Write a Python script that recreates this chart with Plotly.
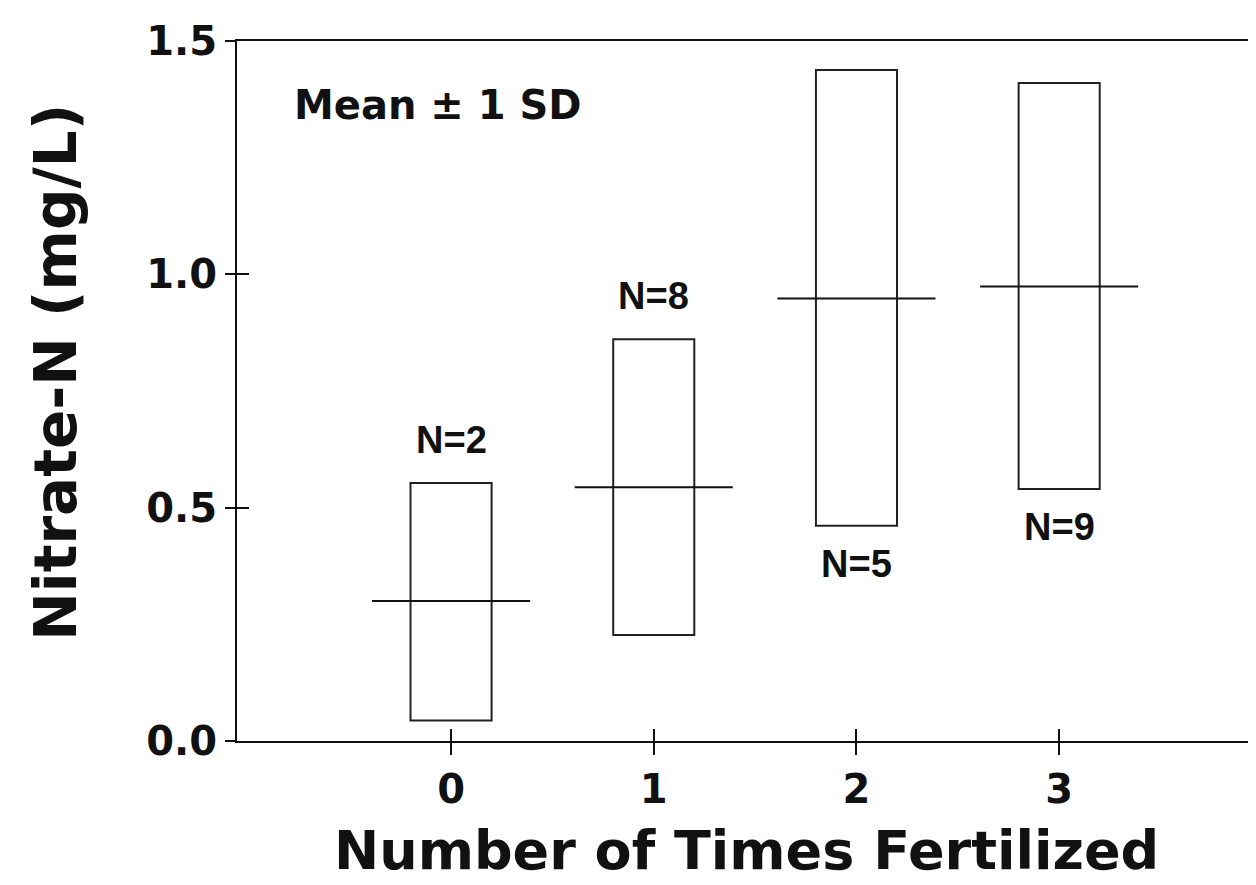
import plotly.graph_objects as go

# ---- data ----
categories = [0, 1, 2, 3]
tick_labels = ["0", "1", "2", "3"]
mean_vals = [0.30, 0.544, 0.948, 0.974]
lower_vals = [0.044, 0.227, 0.461, 0.540]   # mean - 1 SD
upper_vals = [0.553, 0.861, 1.438, 1.410]   # mean + 1 SD
n_labels = ["N=2", "N=8", "N=5", "N=9"]
n_side = ["above", "above", "below", "below"]

y_ticks = [0, 0.5, 1.0, 1.5]
y_tick_labels = ["0.0", "0.5", "1.0", "1.5"]

BOX_W = 0.4
MEAN_HALF = 0.39

fig = go.Figure()

# SD boxes
fig.add_trace(go.Bar(
    x=categories,
    y=[u - l for u, l in zip(upper_vals, lower_vals)],
    base=lower_vals,
    width=BOX_W,
    marker=dict(color="rgba(255,255,255,0)", line=dict(color="#222222", width=2)),
    showlegend=False, hoverinfo="skip",
))

# mean lines
mx, my = [], []
for c, m in zip(categories, mean_vals):
    mx += [c - MEAN_HALF, c + MEAN_HALF, None]
    my += [m, m, None]
fig.add_trace(go.Scatter(x=mx, y=my, mode="lines",
                         line=dict(color="#111111", width=2),
                         showlegend=False, hoverinfo="skip"))

# invisible trace for overlay axes (inside ticks)
fig.add_trace(go.Scatter(x=[0], y=[0], xaxis="x2", yaxis="y2", mode="markers",
                         marker=dict(opacity=0), showlegend=False, hoverinfo="skip"))

# N labels
for c, lab, side, lo, hi in zip(categories, n_labels, n_side, lower_vals, upper_vals):
    if side == "above":
        fig.add_annotation(x=c, y=hi, text=lab, showarrow=False, yanchor="middle",
                           yshift=43, font=dict(family="Liberation Sans", size=38,
                                                color="#111111", weight="bold"))
    else:
        fig.add_annotation(x=c, y=lo, text=lab, showarrow=False, yanchor="middle",
                           yshift=-38, font=dict(family="Liberation Sans", size=38,
                                                 color="#111111", weight="bold"))

fig.add_annotation(xref="paper", yref="paper", x=0.054, y=0.909, xanchor="left",
                   yanchor="middle", text="Mean ± 1 SD", showarrow=False,
                   font=dict(family="DejaVu Sans", size=40, color="#111111", weight="bold"))

# axis titles
fig.add_annotation(xref="paper", yref="paper", x=-0.178, y=0.527, textangle=-90,
                   text="Nitrate-N (mg/L)", showarrow=False, xanchor="center", yanchor="middle",
                   font=dict(family="DejaVu Sans", size=58, color="#111111", weight="bold"))
fig.add_annotation(xref="paper", yref="paper", x=0.5, y=-0.157,
                   text="Number of Times Fertilized", showarrow=False,
                   xanchor="center", yanchor="middle",
                   font=dict(family="DejaVu Sans", size=54, color="#111111", weight="bold"))

tickfont = dict(family="DejaVu Sans", size=40, color="#111111", weight="bold")

# page body has an 8px default margin; size the figure so the plot area
# lands at x 237..1256, y 41..741 in the window
fig.update_layout(
    width=1248, height=877,
    margin=dict(l=229, r=0, t=33, b=144),
    paper_bgcolor="white", plot_bgcolor="white",
    showlegend=False,
    xaxis=dict(range=[-1.056, 3.971], tickvals=categories, ticktext=tick_labels,
               ticks="outside", ticklen=12, tickwidth=2, tickcolor="#111111",
               showline=True, linecolor="#111111", linewidth=2, mirror=True,
               showgrid=False, zeroline=False, tickfont=tickfont),
    yaxis=dict(range=[0, 1.5], tickvals=y_ticks, ticktext=y_tick_labels,
               ticks="outside", ticklen=10, tickwidth=2, tickcolor="#111111",
               showline=True, linecolor="#111111", linewidth=2, mirror=False,
               showgrid=False, zeroline=False, tickfont=tickfont),
    xaxis2=dict(overlaying="x", matches="x", anchor="y2", tickvals=categories,
                ticks="inside", ticklen=12, tickwidth=2, tickcolor="#111111",
                showticklabels=False, showline=False, showgrid=False, zeroline=False),
    yaxis2=dict(overlaying="y", matches="y", anchor="x2", side="left", tickvals=y_ticks,
                ticks="inside", ticklen=12, tickwidth=2, tickcolor="#111111",
                showticklabels=False, showline=False, showgrid=False, zeroline=False),
)

fig.write_html("out.html")
